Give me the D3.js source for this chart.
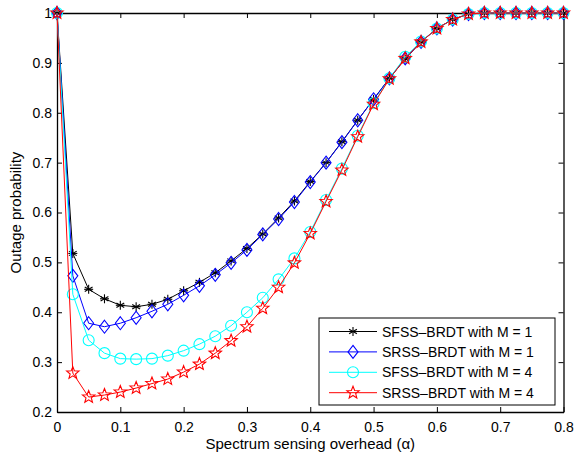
<!DOCTYPE html>
<html>
<head>
<meta charset="utf-8">
<script src="https://cdn.jsdelivr.net/npm/d3@7"></script>
<style>
  body { margin: 0; background: #fff; }
  text { font-family: "Liberation Sans", Arial, sans-serif; }
</style>
</head>
<body>
<div id="chart"></div>
<script>
// overhead values (alpha), every 0.025
var alpha = d3.range(33).map(function (i) { return i * 0.025; });

var sfssM1 = [1, 0.518, 0.446, 0.427, 0.414, 0.411, 0.416, 0.426, 0.443, 0.460, 0.479, 0.503, 0.528, 0.557, 0.589, 0.623,
  0.662, 0.700, 0.742, 0.785, 0.827, 0.869, 0.908, 0.942, 0.969, 0.987, 0.998, 1, 1, 1, 1, 1, 1];
var srssM1 = [1, 0.473, 0.378, 0.371, 0.378, 0.389, 0.402, 0.416, 0.434, 0.453, 0.475, 0.499, 0.525, 0.556, 0.587, 0.621,
  0.661, 0.700, 0.741, 0.785, 0.827, 0.869, 0.909, 0.942, 0.969, 0.987, 0.998, 1, 1, 1, 1, 1, 1];
var sfssM4 = [1, 0.436, 0.344, 0.318, 0.307, 0.306, 0.307, 0.313, 0.323, 0.336, 0.352, 0.373, 0.400, 0.429, 0.466, 0.508,
  0.561, 0.625, 0.688, 0.754, 0.819, 0.869, 0.912, 0.943, 0.969, 0.987, 0.998, 1, 1, 1, 1, 1, 1];
var srssM4 = [1, 0.278, 0.230, 0.234, 0.240, 0.248, 0.257, 0.266, 0.280, 0.296, 0.318, 0.343, 0.371, 0.408, 0.450, 0.499,
  0.558, 0.622, 0.685, 0.752, 0.817, 0.868, 0.909, 0.942, 0.969, 0.987, 0.998, 1, 1, 1, 1, 1, 1];

var legendLabels = ['SFSS\u2013BRDT with M = 1', 'SRSS\u2013BRDT with M = 1', 'SFSS\u2013BRDT with M = 4', 'SRSS\u2013BRDT with M = 4'];
var xTicks = [0, 0.1, 0.2, 0.3, 0.4, 0.5, 0.6, 0.7, 0.8];
var yTicks = [0.2, 0.3, 0.4, 0.5, 0.6, 0.7, 0.8, 0.9, 1];

var series = [
  { name: legendLabels[0], values: sfssM1, color: '#000000', marker: 'asterisk' },
  { name: legendLabels[1], values: srssM1, color: '#0000ff', marker: 'diamond' },
  { name: legendLabels[2], values: sfssM4, color: '#00ffff', marker: 'circle' },
  { name: legendLabels[3], values: srssM4, color: '#ff0000', marker: 'star' }
];

var W = 575, H = 457;
var margin = { left: 57, right: 11.5, top: 13, bottom: 45 };
var iw = W - margin.left - margin.right, ih = H - margin.top - margin.bottom;

var svg = d3.select('#chart').append('svg')
    .attr('width', W).attr('height', H);
var g = svg.append('g').attr('transform', 'translate(' + margin.left + ',' + margin.top + ')');

var x = d3.scaleLinear().domain([0, 0.8]).range([0, iw]);
var y = d3.scaleLinear().domain([0.2, 1]).range([ih, 0]);

// axes with inward ticks, box on
var fmt = function (d) { return d === 0 || d === 1 ? String(d) : d3.format('.1f')(d); };
g.append('g').attr('transform', 'translate(0,' + ih + ')')
    .call(d3.axisBottom(x).tickValues(xTicks).tickFormat(fmt).tickSizeInner(-5).tickSizeOuter(0).tickPadding(10));
g.append('g')
    .call(d3.axisLeft(y).tickValues(yTicks).tickFormat(fmt).tickSizeInner(-5).tickSizeOuter(0).tickPadding(5));
g.append('g')
    .call(d3.axisTop(x).tickValues(xTicks).tickFormat('').tickSizeInner(-5).tickSizeOuter(0));
g.append('g').attr('transform', 'translate(' + iw + ',0)')
    .call(d3.axisRight(y).tickValues(yTicks).tickFormat('').tickSizeInner(-5).tickSizeOuter(0));
g.selectAll('.domain').attr('stroke', '#000').attr('stroke-width', 1.3);
g.selectAll('.tick line').attr('stroke', '#000');
g.selectAll('.tick text').attr('font-size', 14).attr('fill', '#000')
    .style('font-family', '"Liberation Sans", Arial, sans-serif');

// marker drawing
function drawMarker(sel, type, color) {
  if (type === 'asterisk') {
    var r = 4.5;
    [0, 60, 120].forEach(function (a) {
      sel.append('line').attr('x1', 0).attr('y1', -r).attr('x2', 0).attr('y2', r)
        .attr('transform', 'rotate(' + a + ')').attr('stroke', color).attr('stroke-width', 1.1);
    });
    sel.append('line').attr('x1', -r).attr('x2', r).attr('y1', 0).attr('y2', 0)
      .attr('stroke', color).attr('stroke-width', 1.1);
  } else if (type === 'diamond') {
    sel.append('path').attr('d', 'M0,-6.5L5,0L0,6.5L-5,0Z')
      .attr('fill', 'none').attr('stroke', color).attr('stroke-width', 1.1);
  } else if (type === 'circle') {
    sel.append('circle').attr('r', 5.5)
      .attr('fill', 'none').attr('stroke', color).attr('stroke-width', 1.1);
  } else {
    var pts = [];
    for (var i = 0; i < 10; i++) {
      var rr = i % 2 === 0 ? 6.5 : 2.8;
      var a = -Math.PI / 2 + i * Math.PI / 5;
      pts.push([rr * Math.cos(a), rr * Math.sin(a)]);
    }
    sel.append('path').attr('d', 'M' + pts.join('L') + 'Z')
      .attr('fill', 'none').attr('stroke', color).attr('stroke-width', 1.1);
  }
}

var line = d3.line().x(function (d, i) { return x(alpha[i]); }).y(function (d) { return y(d); });

series.forEach(function (s) {
  g.append('path').datum(s.values).attr('d', line)
    .attr('fill', 'none').attr('stroke', s.color).attr('stroke-width', 1);
  g.selectAll(null).data(s.values).enter().append('g')
    .attr('transform', function (d, i) { return 'translate(' + x(alpha[i]) + ',' + y(d) + ')'; })
    .each(function () { drawMarker(d3.select(this), s.marker, s.color); });
});

// legend
var lg = svg.append('g').attr('transform', 'translate(319,318)');
lg.append('rect').attr('width', 236).attr('height', 87)
  .attr('fill', '#fff').attr('stroke', '#000').attr('stroke-width', 1);
series.forEach(function (s, i) {
  var row = lg.append('g').attr('transform', 'translate(0,' + (13.5 + i * 20.4) + ')');
  row.append('line').attr('x1', 10).attr('x2', 58).attr('stroke', s.color).attr('stroke-width', 1);
  drawMarker(row.append('g').attr('transform', 'translate(34,0)'), s.marker, s.color);
  row.append('text').attr('x', 63).attr('y', 5).attr('font-size', 14).text(s.name);
});

// axis titles
svg.append('text').attr('x', margin.left + iw / 2).attr('y', 449).attr('text-anchor', 'middle')
  .attr('font-size', 15).text('Spectrum sensing overhead (\u03b1)');
svg.append('text').attr('transform', 'translate(21,' + (margin.top + ih / 2) + ') rotate(-90)')
  .attr('text-anchor', 'middle').attr('font-size', 15).text('Outage probability');
</script>
</body>
</html>
